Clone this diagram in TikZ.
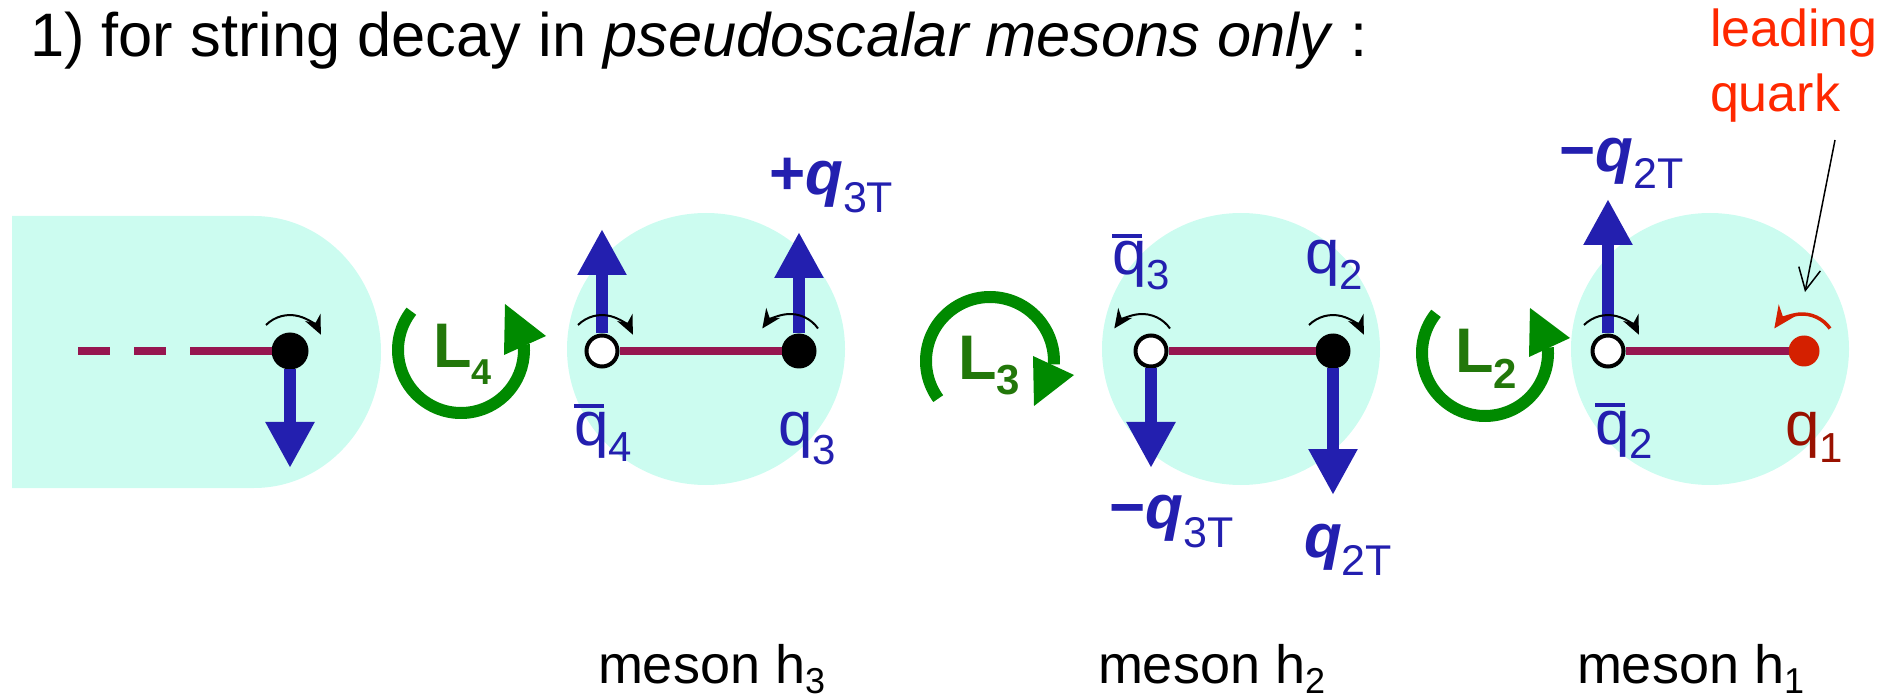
\documentclass[tikz,border=0pt]{standalone}
\usepackage{fontspec}
\setmainfont{Liberation Sans}
\usetikzlibrary{arrows.meta}

\definecolor{bubble}{RGB}{204,252,240}
\definecolor{stringc}{RGB}{150,22,80}
\definecolor{qblue}{RGB}{35,31,175}
\definecolor{Lgreen}{RGB}{0,138,0}
\definecolor{Ltext}{RGB}{34,119,10}
\definecolor{qred}{RGB}{212,32,0}
\definecolor{qonered}{RGB}{153,17,0}
\definecolor{leadred}{RGB}{255,40,0}

% lowered subscript: drop, size, text
\newcommand{\lowsub}[3]{\raisebox{-#1}{\fontsize{#2}{#2}\selectfont #3}}
% q with a bar
\newcommand{\qbar}{\rlap{\rule[0.6em]{0.48em}{0.065em}}q}

\begin{document}
\begin{tikzpicture}[
    x=0.5pt, y=0.5pt,
    every node/.style={inner sep=0pt, outer sep=0pt},
    lbl/.style={anchor=base west},
    qlab/.style={text=qblue, font=\fontsize{31}{31}\selectfont},
    mlab/.style={font=\fontsize{27}{27}\selectfont},
    stringline/.style={stringc, line width=3.75pt},
    quark/.style={circle, fill=black, minimum size=17.5pt},
    antiquark/.style={circle, draw=black, fill=white, line width=2pt, outer sep=1pt, minimum size=15.5pt},
    pT/.style={qblue, line width=6pt, -{Triangle[length=23pt,width=23pt]}},
    spin/.style={line width=1pt, -{Stealth[length=9.5pt,width=8.5pt]}},
    orbit/.style={Lgreen, line width=6pt},
    pointer/.style={line width=0.75pt, -{Straight Barb[length=11pt,width=11pt]}},
]
\useasboundingbox (0,0) rectangle (1901,697);

% ---- row y-coordinates ----
\def\ys{346}      % string row, all quarks
\def\yb{348}      % bubble centres

% ---- column x-coordinates ----
\def\xqfour{290}     % quark left in the string
\def\xaqfour{602}    % qbar_4
\def\xqthree{799}    % q_3
\def\xaqthree{1151}  % qbar_3
\def\xqtwo{1333}     % q_2
\def\xaqtwo{1608}    % qbar_2
\def\xqone{1804}     % q_1, leading quark

% ---- title ----
\node[lbl, font=\fontsize{30.7}{30.7}\selectfont] (title) at (30,640)
    {1) for string decay in \textit{pseudoscalar mesons only} :};

% ---- bubbles ----
\fill[bubble] (12,209) -- (254,209) arc[start angle=-90, end angle=90, x radius=127, y radius=136] -- (12,481) -- cycle;
\fill[bubble] (706,\yb) ellipse[x radius=139, y radius=136];
\fill[bubble] (1241,\yb) ellipse[x radius=139, y radius=136];
\fill[bubble] (1710,\yb) ellipse[x radius=139, y radius=136];

% ---- quarks and antiquarks ----
\node[quark, minimum size=18.5pt] (qfour) at (\xqfour,\ys) {};
\node[antiquark] (aqfour) at (\xaqfour,\ys) {};
\node[quark] (qthree) at (\xqthree,\ys) {};
\node[antiquark] (aqthree) at (\xaqthree,\ys) {};
\node[quark] (qtwo) at (\xqtwo,\ys) {};
\node[antiquark] (aqtwo) at (\xaqtwo,\ys) {};
\node[quark, fill=qred, minimum size=15.5pt] (qone) at (\xqone,\ys) {};

% ---- strings ----
\coordinate (sfree) at (78,\ys);
\draw[stringline, dash pattern=on 16pt off 12pt on 16pt off 12pt on 80pt] (sfree) -- (qfour);
\draw[stringline] (aqfour) -- (qthree);
\draw[stringline] (aqthree) -- (qtwo);
\draw[stringline] (aqtwo) -- (qone);

% ---- transverse momenta ----
\coordinate (tfour) at (\xqfour,229);
\coordinate (taqfour) at (\xaqfour,468);
\coordinate (tqthree) at (\xqthree,465);
\coordinate (taqthree) at (\xaqthree,229);
\coordinate (tqtwo) at (\xqtwo,202);
\coordinate (taqtwo) at (\xaqtwo,498);
\draw[pT] (qfour.south) -- (tfour);
\draw[pT] (aqfour.north) -- (taqfour);
\draw[pT] (qthree.north) -- (tqthree);
\draw[pT] (aqthree.south) -- (taqthree);
\draw[pT] (qtwo.south) -- (tqtwo);
\draw[pT] (aqtwo.north) -- (taqtwo);

% ---- spins ----
\draw[spin] ([shift={(-24,26)}]qfour.center) arc[start angle=135, end angle=25, radius=34];
\draw[spin] ([shift={(-24,26)}]aqfour.center) arc[start angle=135, end angle=25, radius=34];
\draw[spin] ([shift={(19,22.5)}]qthree.center) arc[start angle=35, end angle=145, radius=34];
\draw[spin] ([shift={(19,22.5)}]aqthree.center) arc[start angle=35, end angle=145, radius=34];
\draw[spin] ([shift={(-24,26)}]qtwo.center) arc[start angle=135, end angle=25, radius=34];
\draw[spin] ([shift={(-24,26)}]aqtwo.center) arc[start angle=135, end angle=25, radius=34];
\draw[spin, qred, line width=1.75pt, -{Stealth[length=11pt,width=10pt]}]
    ([shift={(26,22.5)}]qone.center) arc[start angle=35, end angle=145, radius=34];

% ---- orbital angular momenta ----
\coordinate (cfour) at (461,347);
\coordinate (cthree) at (990,336);
\coordinate (ctwo) at (1485,344);
\draw[orbit] ([shift={(142:63)}]cfour) arc[start angle=142, end angle=365, radius=63];
\fill[Lgreen] (505,393) -- (546,361) -- (504,342) -- cycle;
\draw[orbit] ([shift={(216:64)}]cthree) arc[start angle=216, end angle=-3, radius=64];
\fill[Lgreen] (1033,341) -- (1074,322) -- (1034,291) -- cycle;
\draw[orbit] ([shift={(141:63)}]ctwo) arc[start angle=141, end angle=365, radius=63];
\fill[Lgreen] (1530,389) -- (1570,359) -- (1529,340) -- cycle;

\node[lbl, text=Ltext, font=\fontsize{31.5}{31.5}\selectfont\bfseries] (Lfour) at (433,329) {L\lowsub{8.5pt}{18}{4}};
\node[lbl, text=Ltext, font=\fontsize{31.5}{31.5}\selectfont\bfseries] (Lthree) at (958,317) {L\lowsub{7.5pt}{21}{3}};
\node[lbl, text=Ltext, font=\fontsize{31.5}{31.5}\selectfont\bfseries] (Ltwo) at (1455,324) {L\lowsub{8pt}{21}{2}};

% ---- quark labels ----
\node[lbl, qlab] (aqfourlab) at (574,252) {\qbar\lowsub{8.5pt}{21}{4}};
\node[lbl, qlab] (qthreelab) at (778,252) {q\lowsub{9.5pt}{21}{3}};
\node[lbl, qlab] (aqthreelab) at (1112,422) {\qbar\lowsub{7.5pt}{21}{3}};
\node[lbl, qlab] (qtwolab) at (1305,423) {q\lowsub{8pt}{21}{2}};
\node[lbl, qlab] (aqtwolab) at (1595,253) {\qbar\lowsub{7pt}{21}{2}};
\node[lbl, qlab, text=qonered] (qonelab) at (1785,252) {q\lowsub{9pt}{21}{1}};

% ---- momentum labels ----
\node[lbl, qlab] (pthree) at (769,502) {\textbf{+\textit{q}}\lowsub{9pt}{21.5}{3T}};
\node[lbl, qlab] (mpthree) at (1109,169) {\textbf{−\textit{q}}\lowsub{9.5pt}{21.5}{3T}};
\node[lbl, qlab] (ptwo) at (1304,140) {\textbf{\textit{q}}\lowsub{9pt}{21.5}{2T}};
\node[lbl, qlab] (mptwo) at (1559,525) {\textbf{−\textit{q}}\lowsub{8.5pt}{21.5}{2T}};

% ---- leading quark ----
\node[lbl, text=leadred, font=\fontsize{26}{26}\selectfont] (lead) at (1710,650) {leading};
\node[lbl, text=leadred, font=\fontsize{26}{26}\selectfont] (quark) at (1710,585) {quark};
\coordinate (leadtail) at (1835,557);
\coordinate (leadtip) at (1805,405);
\draw[pointer] (leadtail) -- (leadtip);

% ---- meson names ----
\node[lbl, mlab] (hthree) at (598,14) {meson h\lowsub{5pt}{18}{3}};
\node[lbl, mlab] (htwo) at (1098,14) {meson h\lowsub{5pt}{18}{2}};
\node[lbl, mlab] (hone) at (1577,14) {meson h\lowsub{5pt}{18}{1}};
\end{tikzpicture}
\end{document}
